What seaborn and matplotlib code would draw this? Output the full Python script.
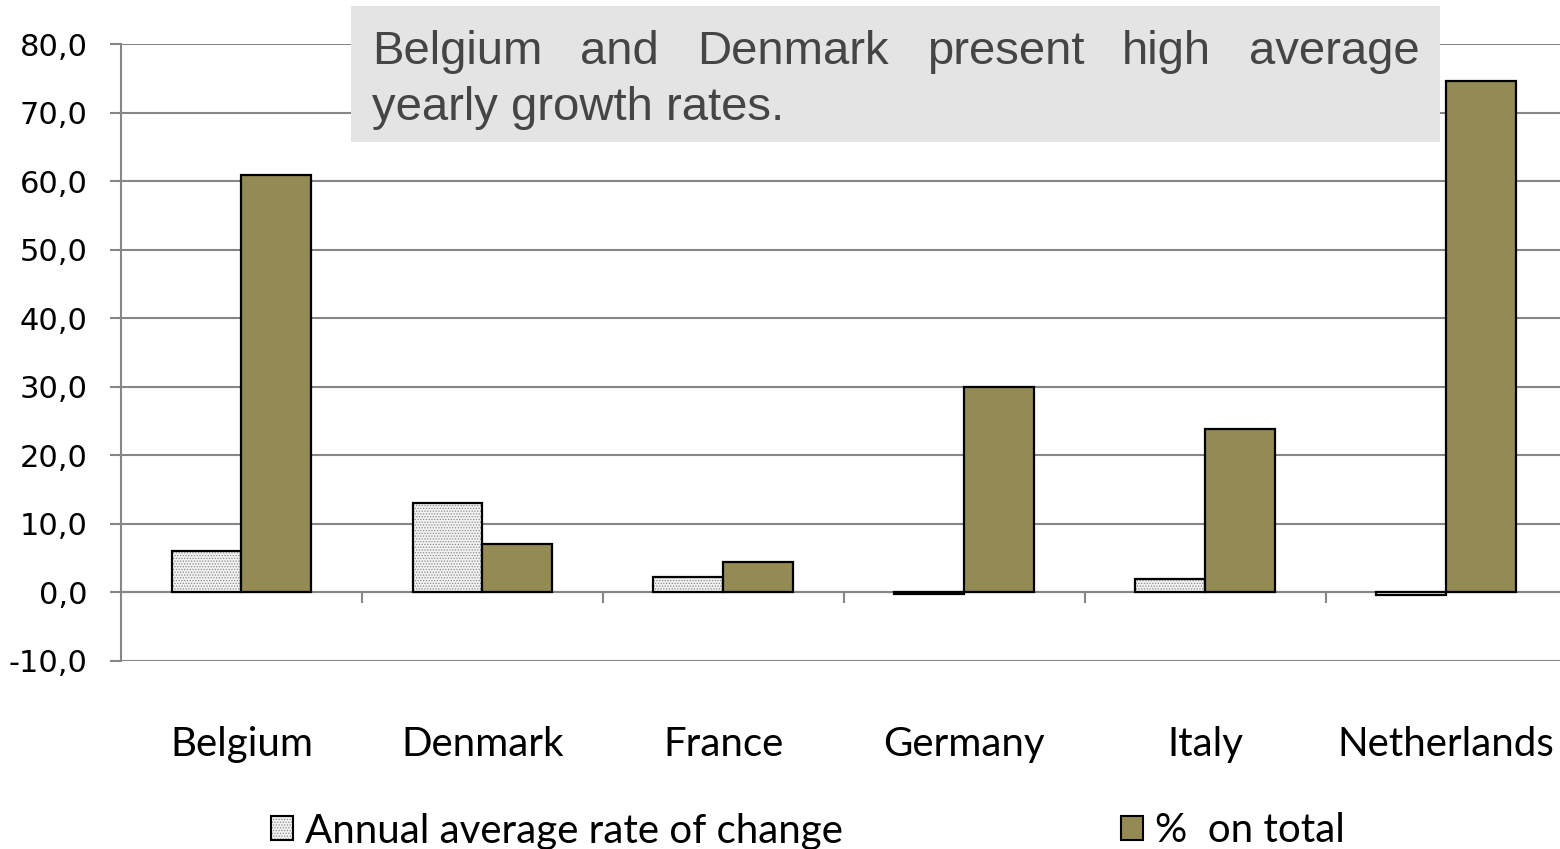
"""
Bar chart: annual average rate of change vs % on total by country,
with a grey callout box on top.
"""
import matplotlib
matplotlib.use("Agg")
import matplotlib.pyplot as plt
import matplotlib.colors as mcolors
from matplotlib.patches import Rectangle, Patch
from matplotlib.ticker import FuncFormatter, FixedLocator
import pandas as pd
import seaborn as sns

countries = ["Belgium", "Denmark", "France", "Germany", "Italy", "Netherlands"]
annual_change = [6.1, 13.1, 2.3, -0.2, 2.0, -0.3]
pct_on_total = [60.9, 7.0, 4.5, 29.9, 23.9, 74.6]
series_names = ["Annual average rate of change", "%  on total"]
y_ticks = [-10, 0, 10, 20, 30, 40, 50, 60, 70, 80]
note_line1 = ["Belgium", "and", "Denmark", "present", "high", "average"]
note_line2 = "yearly growth rates."

OLIVE = "#948a54"
GRID = "#868686"


def main():
    df = pd.DataFrame({
        "country": countries * 2,
        "value": annual_change + pct_on_total,
        "series": [series_names[0]] * len(countries)
        + [series_names[1]] * len(countries),
    })

    sns.set_style("white")
    plt.rcParams["text.color"] = "black"
    plt.rcParams["xtick.color"] = "black"
    plt.rcParams["ytick.color"] = "black"
    plt.rcParams["hatch.linewidth"] = 0.6

    W, H = 1560, 849
    fig = plt.figure(figsize=(W / 100, H / 100), dpi=100)
    ax = fig.add_axes([121 / W, 1 - 661 / H, 1445.5 / W, 617 / H])

    sns.barplot(data=df, x="country", y="value", hue="series",
                palette=["white", OLIVE], width=0.58, edgecolor="black",
                linewidth=1.6, saturation=1, legend=False, ax=ax, zorder=3)

    # dotted fill for the first series
    n = len(countries)
    for p in ax.patches[:n]:
        p.set_hatch("......")
        p.set_facecolor("#f2f2f2")
        p._hatch_color = mcolors.to_rgba("#8a8a8a")

    ax.set_xlim(-0.5, n - 0.5)
    ax.set_ylim(-10, 80)
    ax.set_yticks(y_ticks)
    ax.yaxis.set_major_formatter(
        FuncFormatter(lambda v, _: "{:.1f}".format(v).replace(".", ",")))
    ax.grid(axis="y", color=GRID, linewidth=1.5, zorder=0)
    ax.set_axisbelow(True)
    for s in ["top", "right"]:
        ax.spines[s].set_visible(False)
    ax.spines["left"].set_color(GRID)
    ax.spines["left"].set_linewidth(1.5)
    ax.spines["bottom"].set_position(("data", 0))
    ax.spines["bottom"].set_color(GRID)
    ax.spines["bottom"].set_linewidth(1.5)
    ax.spines["bottom"].set_zorder(2)

    ax.tick_params(axis="y", direction="out", length=8, width=1.5,
                   color=GRID, labelcolor="black", labelsize=22, pad=16,
                   left=True)
    ax.xaxis.set_minor_locator(FixedLocator([i + 0.5 for i in range(n - 1)]))
    ax.tick_params(axis="x", which="minor", direction="out", length=8,
                   width=1.5, color=GRID, bottom=True)
    ax.tick_params(axis="x", which="major", length=0, pad=96,
                   labelcolor="black")
    for lab in ax.get_xticklabels():
        lab.set_fontfamily("Lato")
        lab.set_fontsize(29)
    for lab in ax.get_yticklabels():
        lab.set_fontfamily("DejaVu Sans")
    ax.set_xlabel("")
    ax.set_ylabel("")

    # legend
    handles = [Patch(facecolor="#f2f2f2", edgecolor="black", hatch="......",
                     linewidth=1.5),
               Patch(facecolor=OLIVE, edgecolor="black", linewidth=1.5)]
    leg = fig.legend(handles, series_names, loc="center",
                     bbox_to_anchor=(0.518, 1 - 831 / H), ncol=2, frameon=False,
                     prop={"family": "Lato", "size": 29}, handlelength=0.55,
                     handleheight=0.55, handletextpad=0.3, columnspacing=6.9)
    leg.legend_handles[0]._hatch_color = mcolors.to_rgba("#8a8a8a")
    for t in leg.get_texts():
        t.set_color("black")

    # callout box
    box = Rectangle((351 / W, 1 - 142 / H), (1440 - 351) / W, 136 / H,
                    transform=fig.transFigure, facecolor="#e4e4e4",
                    edgecolor="none", zorder=5)
    fig.add_artist(box)
    font = {"family": ["Liberation Sans Narrow", "Liberation Sans"],
            "size": 34, "color": "#454545"}
    words = [fig.text(0, 1 - 64 / H, w, zorder=6, **font) for w in note_line1]
    fig.text(372 / W, 1 - 120 / H, note_line2, zorder=6, **font)
    fig.canvas.draw()
    r = fig.canvas.get_renderer()
    widths = [t.get_window_extent(r).width for t in words]
    gap = (1420 - 372 - sum(widths)) / (len(words) - 1)
    x = 372
    for t, w in zip(words, widths):
        t.set_x(x / W)
        x += w + gap

    fig.savefig("out.png", dpi=100)


if __name__ == "__main__":
    main()
